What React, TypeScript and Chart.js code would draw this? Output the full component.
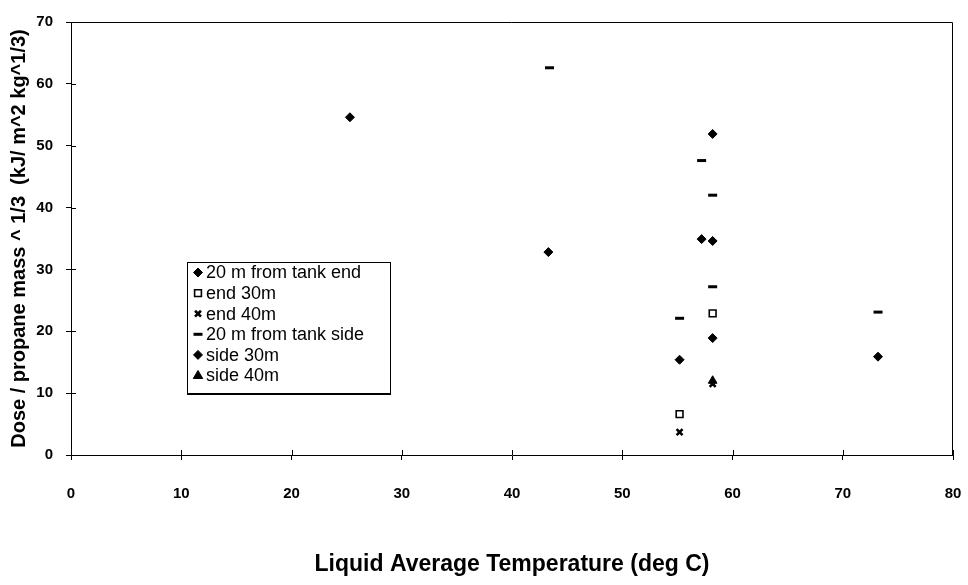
import { useEffect, useRef } from 'react';
import { Chart, registerables } from 'chart.js';
Chart.register(...registerables);

const seriesNames = ['20 m from tank end', 'end 30m', 'end 40m', '20 m from tank side', 'side 30m', 'side 40m'];
const end20X = [25.3, 43.3, 55.2, 57.2, 58.2, 73.2];
const end20Y = [54.6, 32.8, 15.4, 34.9, 18.9, 15.9];
const end30X = [55.2, 58.2];
const end30Y = [6.6, 22.9];
const end40X = [55.2, 58.2];
const end40Y = [3.7, 11.5];
const side20X = [43.4, 55.2, 57.2, 58.2, 58.2, 73.2];
const side20Y = [62.6, 22.1, 47.6, 42.0, 27.2, 23.1];
const side30X = [58.2, 58.2];
const side30Y = [51.9, 34.6];
const side40X = [58.2];
const side40Y = [12.0];

const xTitle = 'Liquid Average Temperature (deg C)';
const yTitle = 'Dose / propane mass ^ 1/3  (kJ/ m^2 kg^1/3)';
const X_MIN = 0, X_MAX = 80, X_STEP = 10;
const Y_MIN = 0, Y_MAX = 70, Y_STEP = 10;

const styles: any[] = [
  { pointStyle: 'rectRot', radius: 4.5, bg: '#000', border: '#000', bw: 1 },
  { pointStyle: 'rect', radius: 4.8, bg: '#fff', border: '#000', bw: 1.6 },
  { pointStyle: 'crossRot', radius: 4.2, bg: '#000', border: '#000', bw: 2.6 },
  { pointStyle: 'line', radius: 4.5, bg: '#000', border: '#000', bw: 3 },
  { pointStyle: 'rectRot', radius: 4.5, bg: '#000', border: '#000', bw: 1 },
  { pointStyle: 'triangle', radius: 5, bg: '#000', border: '#000', bw: 1 },
];

const pairs = (xs: number[], ys: number[]) => xs.map((x, i) => ({ x, y: ys[i] }));
const allData = [
  pairs(end20X, end20Y),
  pairs(end30X, end30Y),
  pairs(end40X, end40Y),
  pairs(side20X, side20Y),
  pairs(side30X, side30Y),
  pairs(side40X, side40Y),
];

const FONT = "'Liberation Sans', Arial, sans-serif";

function drawMarker(ctx: any, style: string, r: number, x: number, y: number) {
  ctx.beginPath();
  if (style === 'rectRot') {
    ctx.moveTo(x, y - r); ctx.lineTo(x + r, y); ctx.lineTo(x, y + r); ctx.lineTo(x - r, y); ctx.closePath();
    ctx.fill(); ctx.stroke();
  } else if (style === 'rect') {
    const s = r * Math.SQRT1_2;
    ctx.rect(x - s, y - s, 2 * s, 2 * s); ctx.fill(); ctx.stroke();
  } else if (style === 'crossRot') {
    const s = r * Math.SQRT1_2;
    ctx.moveTo(x - s, y - s); ctx.lineTo(x + s, y + s);
    ctx.moveTo(x + s, y - s); ctx.lineTo(x - s, y + s);
    ctx.stroke();
  } else if (style === 'line') {
    ctx.moveTo(x - r, y); ctx.lineTo(x + r, y); ctx.stroke();
  } else if (style === 'triangle') {
    ctx.moveTo(x, y - r); ctx.lineTo(x + r * 0.95, y + r * 0.6); ctx.lineTo(x - r * 0.95, y + r * 0.6); ctx.closePath();
    ctx.fill(); ctx.stroke();
  }
}

const framePlugin = {
  id: 'frameTicks',
  afterDraw(chart: any) {
    const { ctx, chartArea: a, scales } = chart;
    ctx.save();
    ctx.strokeStyle = '#000';
    ctx.lineWidth = 1;
    ctx.beginPath();
    ctx.moveTo(a.left, a.top + 0.5);
    ctx.lineTo(a.right - 0.5, a.top + 0.5);
    ctx.lineTo(a.right - 0.5, a.bottom);
    ctx.stroke();
    ctx.beginPath();
    scales.x.ticks.forEach((t: any) => {
      const px = Math.round(scales.x.getPixelForValue(t.value)) + 0.5;
      ctx.moveTo(px, a.bottom);
      ctx.lineTo(px, a.bottom - 5);
    });
    scales.y.ticks.forEach((t: any) => {
      const py = Math.round(scales.y.getPixelForValue(t.value)) + 0.5;
      ctx.moveTo(a.left, py);
      ctx.lineTo(a.left + 5, py);
    });
    ctx.stroke();
    ctx.restore();
  },
};

const legendPlugin = {
  id: 'legendBox',
  afterDraw(chart: any) {
    const { ctx, chartArea: a } = chart;
    ctx.save();
    const lx = a.left + 116, ly = 262, lw = 203, lh = 131;
    ctx.fillStyle = '#fff';
    ctx.fillRect(lx, ly, lw, lh);
    ctx.lineWidth = 1;
    ctx.strokeStyle = '#000';
    ctx.strokeRect(lx + 0.5, ly + 0.5, lw, lh);
    ctx.lineWidth = 2;
    ctx.beginPath();
    ctx.moveTo(lx, ly + lh + 1);
    ctx.lineTo(lx + lw + 1, ly + lh + 1);
    ctx.stroke();
    ctx.font = `18px ${FONT}`;
    ctx.textBaseline = 'middle';
    ctx.textAlign = 'left';
    seriesNames.forEach((name, i) => {
      const cy = ly + 10.5 + i * 20.6;
      const s = styles[i];
      ctx.save();
      ctx.fillStyle = s.bg;
      ctx.strokeStyle = s.border;
      ctx.lineWidth = s.bw;
      drawMarker(ctx, s.pointStyle, s.radius, lx + 11, cy);
      ctx.restore();
      ctx.fillStyle = '#000';
      ctx.fillText(name, lx + 19, cy + 1);
    });
    ctx.restore();
  },
};

export default function App() {
  const ref = useRef<HTMLCanvasElement>(null);
  useEffect(() => {
    document.body.style.margin = '0';
    const chart = new Chart(ref.current as HTMLCanvasElement, {
      type: 'scatter',
      data: {
        datasets: allData.map((d, i) => ({
          label: seriesNames[i],
          data: d,
          pointStyle: styles[i].pointStyle,
          pointRadius: styles[i].radius,
          pointBackgroundColor: styles[i].bg,
          pointBorderColor: styles[i].border,
          pointBorderWidth: styles[i].bw,
          showLine: false,
        })),
      },
      options: {
        animation: false,
        responsive: false,
        layout: { padding: { top: 9, right: 0, left: 0, bottom: 0 } },
        plugins: { legend: { display: false }, tooltip: { enabled: false } },
        scales: {
          x: {
            type: 'linear',
            min: X_MIN, max: X_MAX,
            afterFit: (s: any) => { s.height = 130; s.paddingRight = 15; s.paddingLeft = 0; },
            ticks: { stepSize: X_STEP, color: '#000', padding: 25, font: { family: FONT, size: 15, weight: 'bold' } },
            grid: { drawOnChartArea: false, drawTicks: true, tickLength: 5, color: '#000' },
            border: { color: '#000', width: 1 },
            title: { display: true, text: xTitle, color: '#000', padding: { top: 0, bottom: 7 }, font: { family: FONT, size: 23, weight: 'bold' } },
          },
          y: {
            type: 'linear',
            min: Y_MIN, max: Y_MAX,
            afterFit: (s: any) => { s.width = 71; },
            ticks: { stepSize: Y_STEP, color: '#000', padding: 13, font: { family: FONT, size: 15, weight: 'bold' } },
            grid: { drawOnChartArea: false, drawTicks: true, tickLength: 5, color: '#000' },
            border: { color: '#000', width: 1 },
            title: { display: true, text: yTitle, color: '#000', padding: { top: 7, bottom: 0 }, font: { family: FONT, size: 20, weight: 'bold' } },
          },
        },
      },
      plugins: [framePlugin, legendPlugin],
    } as any);
    return () => chart.destroy();
  }, []);
  return (
    <div style={{ width: 968, height: 585, background: '#fff' }}>
      <canvas ref={ref} width={968} height={585} style={{ display: 'block' }} />
    </div>
  );
}
